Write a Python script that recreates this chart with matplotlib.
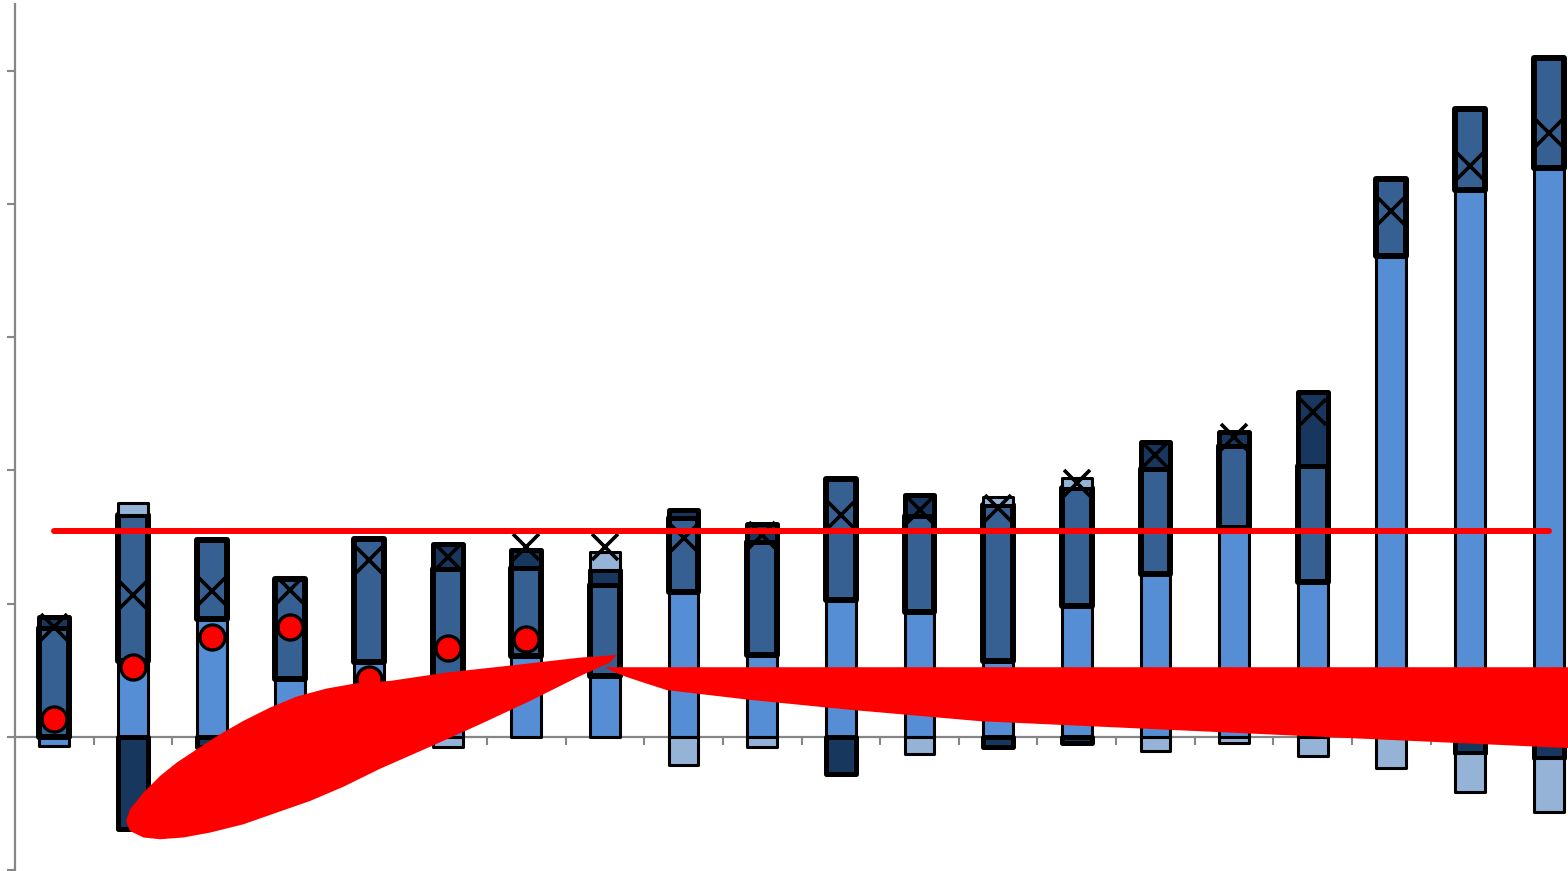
import numpy as np
import matplotlib
matplotlib.use("Agg")
from matplotlib import pyplot as plt

# four stacked series (signed values, stacked up / down from zero)
s1 = [-0.07, 0.57, 0.885, 0.435, 0.56, 0.35, 0.605, 0.455, 1.09, 0.61,
      1.03, 0.94, 0.565, 0.98, 1.22, 1.57, 1.165, 3.605, 4.105, 4.27]
s2 = [0.82, 1.095, 0.595, 0.75, 0.925, 0.91, 0.665, 0.685, 0.555, 0.85,
      0.905, 0.715, 1.175, 0.89, 0.79, 0.61, 0.865, 0.585, 0.605, 0.825]
s3 = [0.08, -0.695, -0.08, 0.0, 0.0, 0.19, 0.13, 0.11, 0.06, 0.14,
      -0.28, 0.16, -0.08, -0.045, 0.20, 0.11, 0.56, 0.0, -0.12, -0.16]
s4 = [0.0, 0.09, 0.0, 0.0, 0.0, -0.075, 0.0, 0.14, -0.21, -0.08,
      0.0, -0.13, 0.06, 0.07, -0.11, -0.045, -0.145, -0.235, -0.295, -0.405]

# x markers on every bar
cross_y = [0.825, 1.065, 1.095, 1.105, 1.33, 1.35, 1.425, 1.425, 1.49, 1.515,
           1.665, 1.70, 1.72, 1.905, 2.115, 2.25, 2.44, 3.95, 4.285, 4.53]
# red dots, first seven bars only
dot_y = [0.13, 0.525, 0.75, 0.825, 0.43, 0.67, 0.735]
# red reference line
ref_level = 1.545

# the red blob (outline, data coords)
blob_left_x = [0.912, 0.962, 1.132, 1.343, 1.556, 1.811, 2.107, 2.403, 2.743,
               3.082, 3.463, 3.845, 4.268, 4.989, 5.836, 6.684, 7.150,
               7.066, 6.684, 6.049, 5.413, 4.777, 4.141, 3.676, 3.251, 2.828,
               2.403, 1.980, 1.640, 1.344, 1.132, 0.962]
blob_left_y = [-0.633, -0.545, -0.420, -0.295, -0.194, -0.094, 0.019, 0.119, 0.219,
               0.302, 0.362, 0.402, 0.419, 0.482, 0.537, 0.594, 0.614,
               0.557, 0.456, 0.269, 0.094, -0.075, -0.240, -0.375, -0.482, -0.569,
               -0.657, -0.719, -0.756, -0.769, -0.756, -0.707]
blob_right_x = [7.002, 20.0, 20.0, 11.77, 10.07, 8.80, 7.79, 7.50, 7.28, 7.10]
blob_right_y = [0.522, 0.522, -0.105, 0.117, 0.205, 0.28, 0.350, 0.405, 0.448, 0.490]

colors = ['#558ED5', '#376092', '#17375E', '#95B3D7']
edge_w = [2.2, 4.3, 3.6, 2.2]

n = len(s1)
x = np.arange(n)

fig = plt.figure(figsize=(15.68, 8.71), dpi=100)
ax = fig.add_axes([15/1568, 1/871, 1 - 15/1568, 866/871])

pos_base = np.zeros(n)
neg_base = np.zeros(n)
for vals, c, lw in zip([s1, s2, s3, s4], colors, edge_w):
    v = np.array(vals)
    bottoms = np.where(v >= 0, pos_base, neg_base)
    ax.bar(x, v, bottom=bottoms, width=0.38, color=c, edgecolor='black',
           linewidth=lw, joinstyle='round', zorder=2)
    pos_base = pos_base + np.where(v > 0, v, 0)
    neg_base = neg_base + np.where(v < 0, v, 0)

ax.plot(x, cross_y, linestyle='none', marker='x', markersize=19,
        markeredgewidth=2.6, color='black', zorder=4)
ax.plot(x[:len(dot_y)], dot_y, linestyle='none', marker='o', markersize=18,
        markerfacecolor='#FF0000', markeredgecolor='black',
        markeredgewidth=2.4, zorder=4)
ax.plot([x[0], x[-1]], [ref_level, ref_level], color='#FF0000',
        linewidth=4.3, solid_capstyle='round', zorder=5)

ax.fill(blob_left_x, blob_left_y, color='#FF0000', linewidth=0, zorder=6)
ax.fill(blob_right_x, blob_right_y, color='#FF0000', linewidth=0, zorder=6)

ax.spines['top'].set_visible(False)
ax.spines['right'].set_visible(False)
ax.spines['bottom'].set_position(('data', 0))
for s in ['left', 'bottom']:
    ax.spines[s].set_color('#868686')
    ax.spines[s].set_linewidth(1.6)
    ax.spines[s].set_zorder(1)

ax.set_yticks(np.arange(-1, 6))
ax.set_xticks(np.arange(0.5, n - 1, 1.0))
ax.tick_params(axis='both', direction='out', color='#868686', width=1.5,
               labelleft=False, labelbottom=False)
ax.tick_params(axis='y', length=6)
ax.tick_params(axis='x', length=6)
ax.patch.set_alpha(0)

# limits last so the tick setters don't widen them
ax.set_xlim(-0.5, 19.245)
ax.set_ylim(-1, 5.5)

plt.savefig('out.png', dpi=100)
plt.close("all")
